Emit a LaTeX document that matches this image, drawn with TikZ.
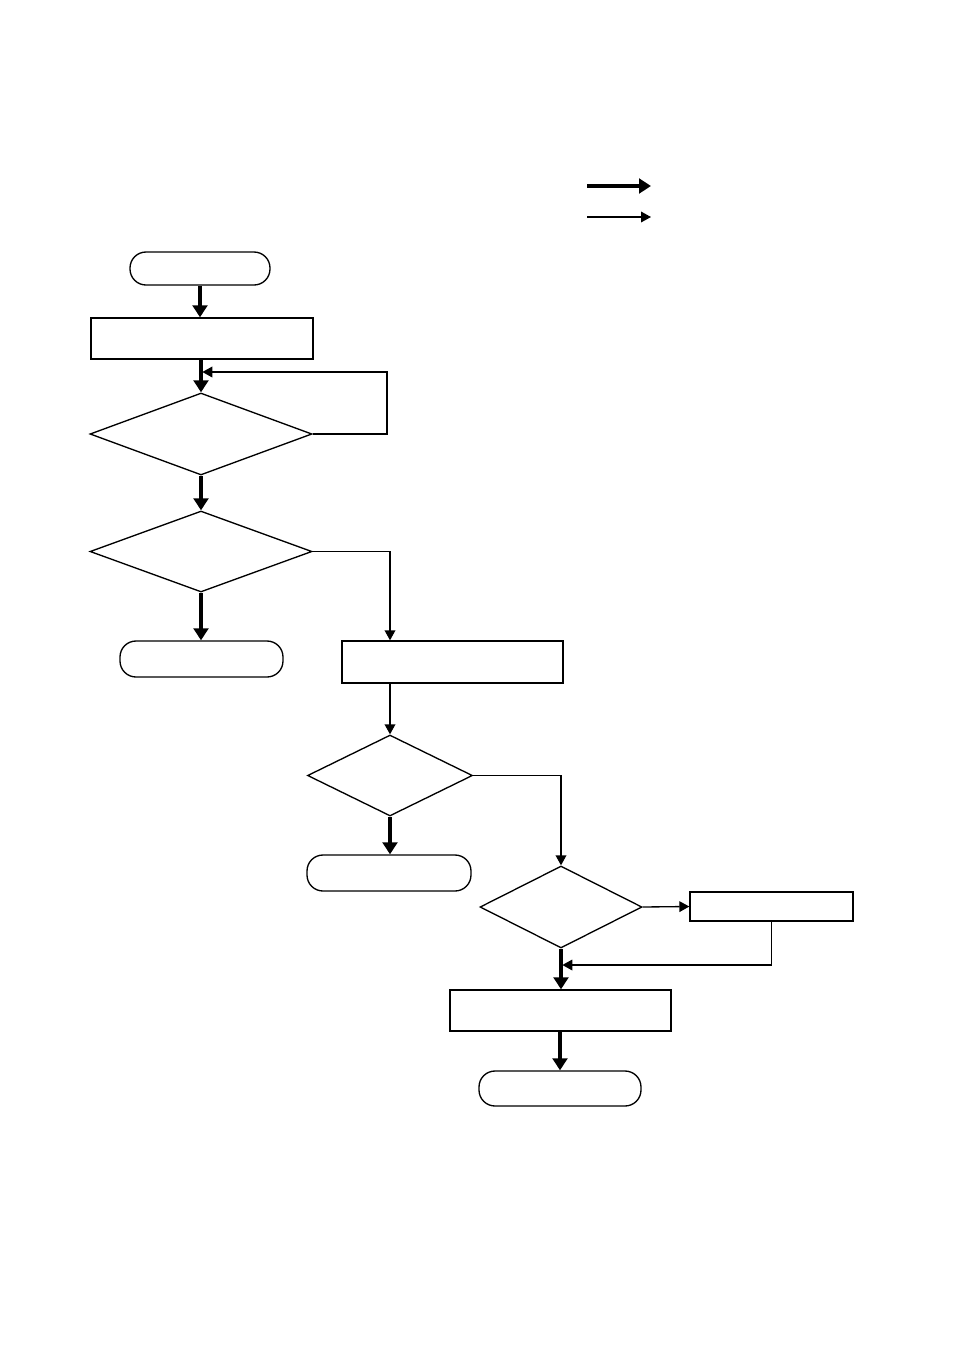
\documentclass[tikz,border=0pt]{standalone}
\usetikzlibrary{shapes.geometric,arrows.meta}
\begin{document}
\begin{tikzpicture}[x=0.75pt,y=-0.75pt,
  base/.style={draw=black,line width=1pt,inner sep=0pt,fill=white},
  term/.style={base,rectangle,rounded corners=12pt},
  proc/.style={base,rectangle},
  dec/.style={base,diamond},
  thickarr/.style={line width=3pt,-{Triangle[length=9pt,width=11pt]}},
  thinarr/.style={line width=1pt,-{Triangle[length=7.5pt,width=8pt]}},
  thinline/.style={line width=1pt}]
\useasboundingbox (0,0) rectangle (954,1350);
% legend
\coordinate (l1a) at (587,186); \coordinate (l1b) at (651,186);
\coordinate (l2a) at (587,217); \coordinate (l2b) at (651,217);
\draw[thickarr] (l1a) -- (l1b);
\draw[thinarr] (l2a) -- (l2b);
% nodes
\node[term,minimum width=105pt,minimum height=24.75pt] (t1) at (200,268.5) {};
\node[proc,minimum width=166.5pt,minimum height=30.75pt] (r1) at (202,338.5) {};
\node[dec,minimum width=166.5pt,minimum height=61.5pt] (d1) at (201,434) {};
\node[dec,minimum width=166.5pt,minimum height=60.75pt] (d2) at (201,551.5) {};
\node[term,minimum width=122.25pt,minimum height=27pt] (t2) at (201.5,659) {};
\node[proc,minimum width=165.75pt,minimum height=31.5pt] (r2) at (452.5,662) {};
\node[dec,minimum width=123.75pt,minimum height=60.75pt] (d3) at (390,775.5) {};
\node[term,minimum width=123pt,minimum height=27pt] (t3) at (389,873) {};
\node[dec,minimum width=121.5pt,minimum height=61.5pt] (d4) at (561,907) {};
\node[proc,minimum width=122.25pt,minimum height=21.75pt] (r3) at (771.5,906.5) {};
\node[proc,minimum width=165.75pt,minimum height=30.75pt] (r4) at (560.5,1010.5) {};
\node[term,minimum width=121.5pt,minimum height=26.25pt] (t4) at (560,1088.5) {};
% connectors
\coordinate (c1) at (201,372);
\coordinate (j4) at (561,965);
\draw[thickarr] (t1) -- (t1 |- r1.north);
\draw[thickarr] (r1.south -| d1) -- (d1.north);
\draw[thinline,-{Triangle[length=7.5pt,width=8pt]}] (d1.east) -- (387,434) -- (387,372) -- ([xshift=1pt]c1);
\draw[thickarr] (d1.south) -- (d2.north);
\draw[thickarr] (d2.south) -- (d2.south |- t2.north);
\draw[thinarr] (d2.east) -| (r2.north -| d3.north);
\draw[thinarr] (r2.south -| d3.north) -- (d3.north);
\draw[thickarr] (d3.south) -- (d3.south |- t3.north);
\draw[thinarr] (d3.east) -| (d4.north);
\draw[thinarr] (d4.east) -- (r3.west);
\draw[thinarr] (r3.south) |- ([xshift=1pt]j4);
\draw[thickarr] (d4.south) -- (d4.south |- r4.north);
\draw[thickarr] (r4.south -| t4) -- (t4.north);
\end{tikzpicture}
\end{document}
